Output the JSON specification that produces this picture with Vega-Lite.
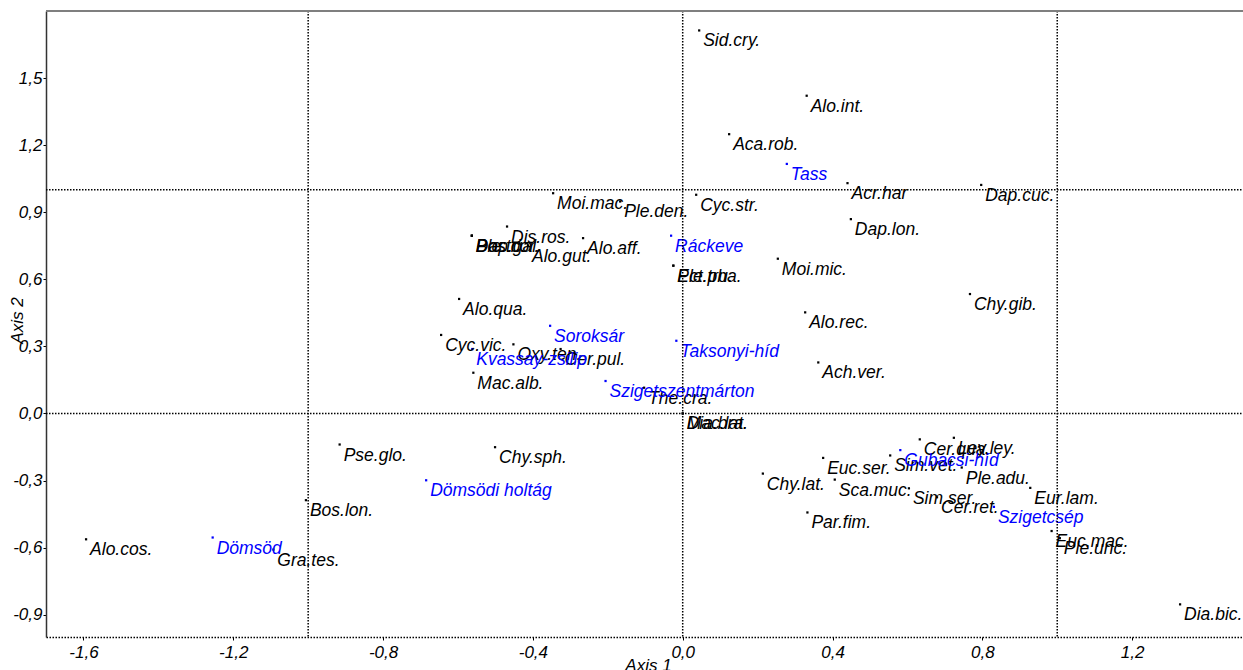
{
  "$schema": "https://vega.github.io/schema/vega-lite/v6.json",
  "width": 1197,
  "height": 626,
  "autosize": "none",
  "padding": {"left": 46, "top": 11, "right": 0, "bottom": 33},
  "background": "white",
  "config": {
    "view": {"stroke": null},
    "font": "Liberation Sans",
    "axis": {"labelFont": "Liberation Sans", "titleFont": "Liberation Sans"}
  },
  "datasets": {
    "pts": [
      {"label": "Sid.cry.", "x": 0.044, "y": 1.713, "group": "species"},
      {"label": "Alo.int.", "x": 0.331, "y": 1.421, "group": "species"},
      {"label": "Aca.rob.", "x": 0.124, "y": 1.249, "group": "species"},
      {"label": "Acr.har", "x": 0.440, "y": 1.030, "group": "species"},
      {"label": "Dap.cuc.", "x": 0.797, "y": 1.022, "group": "species"},
      {"label": "Moi.mac.", "x": -0.346, "y": 0.985, "group": "species"},
      {"label": "Ple.den.", "x": -0.167, "y": 0.948, "group": "species"},
      {"label": "Cyc.str.", "x": 0.036, "y": 0.978, "group": "species"},
      {"label": "Dap.lon.", "x": 0.449, "y": 0.869, "group": "species"},
      {"label": "Dis.ros.", "x": -0.469, "y": 0.836, "group": "species"},
      {"label": "Bos.cor.", "x": -0.563, "y": 0.795, "group": "species"},
      {"label": "Dap.gal.", "x": -0.563, "y": 0.795, "group": "species"},
      {"label": "Ple.tri.", "x": -0.563, "y": 0.795, "group": "species"},
      {"label": "Alo.gut.", "x": -0.413, "y": 0.751, "group": "species"},
      {"label": "Alo.aff.", "x": -0.266, "y": 0.784, "group": "species"},
      {"label": "Ple.tru.", "x": -0.025, "y": 0.661, "group": "species"},
      {"label": "Ect.pha.", "x": -0.025, "y": 0.661, "group": "species"},
      {"label": "Moi.mic.", "x": 0.254, "y": 0.692, "group": "species"},
      {"label": "Chy.gib.", "x": 0.767, "y": 0.534, "group": "species"},
      {"label": "Alo.qua.", "x": -0.597, "y": 0.512, "group": "species"},
      {"label": "Alo.rec.", "x": 0.327, "y": 0.452, "group": "species"},
      {"label": "Cyc.vic.", "x": -0.645, "y": 0.351, "group": "species"},
      {"label": "Oxy.ten.", "x": -0.452, "y": 0.309, "group": "species"},
      {"label": "Cer.pul.", "x": -0.326, "y": 0.288, "group": "species"},
      {"label": "Ach.ver.", "x": 0.362, "y": 0.228, "group": "species"},
      {"label": "Mac.alb.", "x": -0.559, "y": 0.182, "group": "species"},
      {"label": "The.cra.", "x": -0.103, "y": 0.115, "group": "species"},
      {"label": "Dia.bra.", "x": 0.0, "y": 0.0, "group": "species"},
      {"label": "Mac.lat.", "x": 0.0, "y": 0.0, "group": "species"},
      {"label": "Chy.sph.", "x": -0.501, "y": -0.151, "group": "species"},
      {"label": "Pse.glo.", "x": -0.916, "y": -0.139, "group": "species"},
      {"label": "Bos.lon.", "x": -1.006, "y": -0.388, "group": "species"},
      {"label": "Alo.cos.", "x": -1.593, "y": -0.563, "group": "species"},
      {"label": "Gra.tes.", "x": -1.093, "y": -0.609, "group": "species"},
      {"label": "Chy.lat.", "x": 0.214, "y": -0.269, "group": "species"},
      {"label": "Par.fim.", "x": 0.333, "y": -0.443, "group": "species"},
      {"label": "Euc.ser.", "x": 0.375, "y": -0.199, "group": "species"},
      {"label": "Sca.muc.", "x": 0.406, "y": -0.296, "group": "species"},
      {"label": "Sim.vet.", "x": 0.554, "y": -0.188, "group": "species"},
      {"label": "Cer.qua.", "x": 0.633, "y": -0.116, "group": "species"},
      {"label": "Ley.ley.", "x": 0.724, "y": -0.109, "group": "species"},
      {"label": "Ple.adu.", "x": 0.745, "y": -0.242, "group": "species"},
      {"label": "Sim.ser.", "x": 0.604, "y": -0.335, "group": "species"},
      {"label": "Cer.ret.", "x": 0.679, "y": -0.375, "group": "species"},
      {"label": "Eur.lam.", "x": 0.928, "y": -0.333, "group": "species"},
      {"label": "Euc.mac.", "x": 0.985, "y": -0.526, "group": "species"},
      {"label": "Ple.unc.", "x": 1.007, "y": -0.558, "group": "species"},
      {"label": "Dia.bic.", "x": 1.328, "y": -0.854, "group": "species"},
      {"label": "Tass", "x": 0.278, "y": 1.116, "group": "site"},
      {"label": "Ráckeve", "x": -0.031, "y": 0.795, "group": "site"},
      {"label": "Soroksár", "x": -0.354, "y": 0.392, "group": "site"},
      {"label": "Taksonyi-híd", "x": -0.017, "y": 0.325, "group": "site"},
      {"label": "Kvassay-zsilip", "x": -0.562, "y": 0.288, "group": "site"},
      {"label": "Szigetszentmárton", "x": -0.206, "y": 0.145, "group": "site"},
      {"label": "Dömsödi holtág", "x": -0.685, "y": -0.299, "group": "site"},
      {"label": "Dömsöd", "x": -1.255, "y": -0.555, "group": "site"},
      {"label": "Gubacsi-híd", "x": 0.581, "y": -0.164, "group": "site"},
      {"label": "Szigetcsép", "x": 0.831, "y": -0.418, "group": "site"}
    ],
    "vlines": [{"x": -1}, {"x": 0}, {"x": 1}],
    "hlines": [{"y": 0}, {"y": 1}, {"y": 1.8, "kind": "border"}]
  },
  "encoding": {
    "x": {
      "field": "x", "type": "quantitative",
      "scale": {"domain": [-1.7, 1.496], "nice": false, "zero": false},
      "axis": {
        "values": [-1.6, -1.2, -0.8, -0.4, 0, 0.4, 0.8, 1.2],
        "labelExpr": "(datum.value < -0.0001 ? '-' : '') + replace(format(abs(datum.value), '.1f'), '.', ',')",
        "labelFontSize": 17, "labelFontStyle": "italic", "labelColor": "#000000",
        "tickSize": 3, "tickColor": "#000000", "labelPadding": 4,
        "domainColor": "#000000", "domainWidth": 1.5, "domainDash": [1.5, 1.5],
        "grid": false, "labelFlush": false, "labelOverlap": false,
        "title": "Axis 1", "titleFontSize": 17, "titleFontStyle": "italic", "titleFontWeight": "normal",
        "titleColor": "#000000", "titleX": 602, "titleY": 20, "titleBaseline": "top", "titleAlign": "center"
      }
    },
    "y": {
      "field": "y", "type": "quantitative",
      "scale": {"domain": [-1.0, 1.8], "nice": false, "zero": false},
      "axis": {
        "values": [-0.9, -0.6, -0.3, 0, 0.3, 0.6, 0.9, 1.2, 1.5],
        "labelExpr": "(datum.value < -0.0001 ? '-' : '') + replace(format(abs(datum.value), '.1f'), '.', ',')",
        "labelFontSize": 17, "labelFontStyle": "italic", "labelColor": "#000000",
        "tickSize": 3, "tickColor": "#000000", "labelPadding": 1,
        "domainColor": "#333333", "domainWidth": 1.5,
        "grid": false, "labelFlush": false, "labelOverlap": false,
        "title": "Axis 2", "titleFontSize": 17, "titleFontStyle": "italic", "titleFontWeight": "normal",
        "titleColor": "#000000", "titleX": -24, "titleY": 309, "titleBaseline": "alphabetic", "titleAlign": "center", "titleAngle": -90
      }
    }
  },
  "layer": [
    {
      "data": {"name": "pts"},
      "mark": {"type": "point", "shape": "square", "filled": true, "size": 5, "opacity": 1},
      "encoding": {
        "color": {"field": "group", "type": "nominal", "scale": {"domain": ["species", "site"], "range": ["#000000", "#0000ff"]}, "legend": null}
      }
    },
    {
      "data": {"name": "pts"},
      "mark": {"type": "text", "align": "left", "baseline": "alphabetic", "dx": 4, "dy": 16, "fontSize": 17.5, "fontStyle": "italic", "font": "Liberation Sans"},
      "encoding": {
        "text": {"field": "label"},
        "color": {"field": "group", "type": "nominal", "scale": {"domain": ["species", "site"], "range": ["#000000", "#0000ff"]}, "legend": null}
      }
    },
    {
      "data": {"name": "vlines"},
      "mark": {"type": "rule", "color": "#000000", "strokeWidth": 1.5, "strokeDash": [1.5, 1.5]},
      "encoding": {
        "y": {"value": 0},
        "y2": {"value": 626}
      }
    },
    {
      "data": {"name": "hlines"},
      "transform": [{"filter": "datum.kind !== 'border'"}],
      "mark": {"type": "rule", "color": "#000000", "strokeWidth": 1.5, "strokeDash": [1.5, 1.5]},
      "encoding": {
        "x": {"value": 0},
        "x2": {"value": 1197}
      }
    },
    {
      "data": {"name": "hlines"},
      "transform": [{"filter": "datum.kind === 'border'"}],
      "mark": {"type": "rule", "color": "#7f7f7f", "strokeWidth": 2},
      "encoding": {
        "x": {"value": 0},
        "x2": {"value": 1197}
      }
    }
  ]
}
